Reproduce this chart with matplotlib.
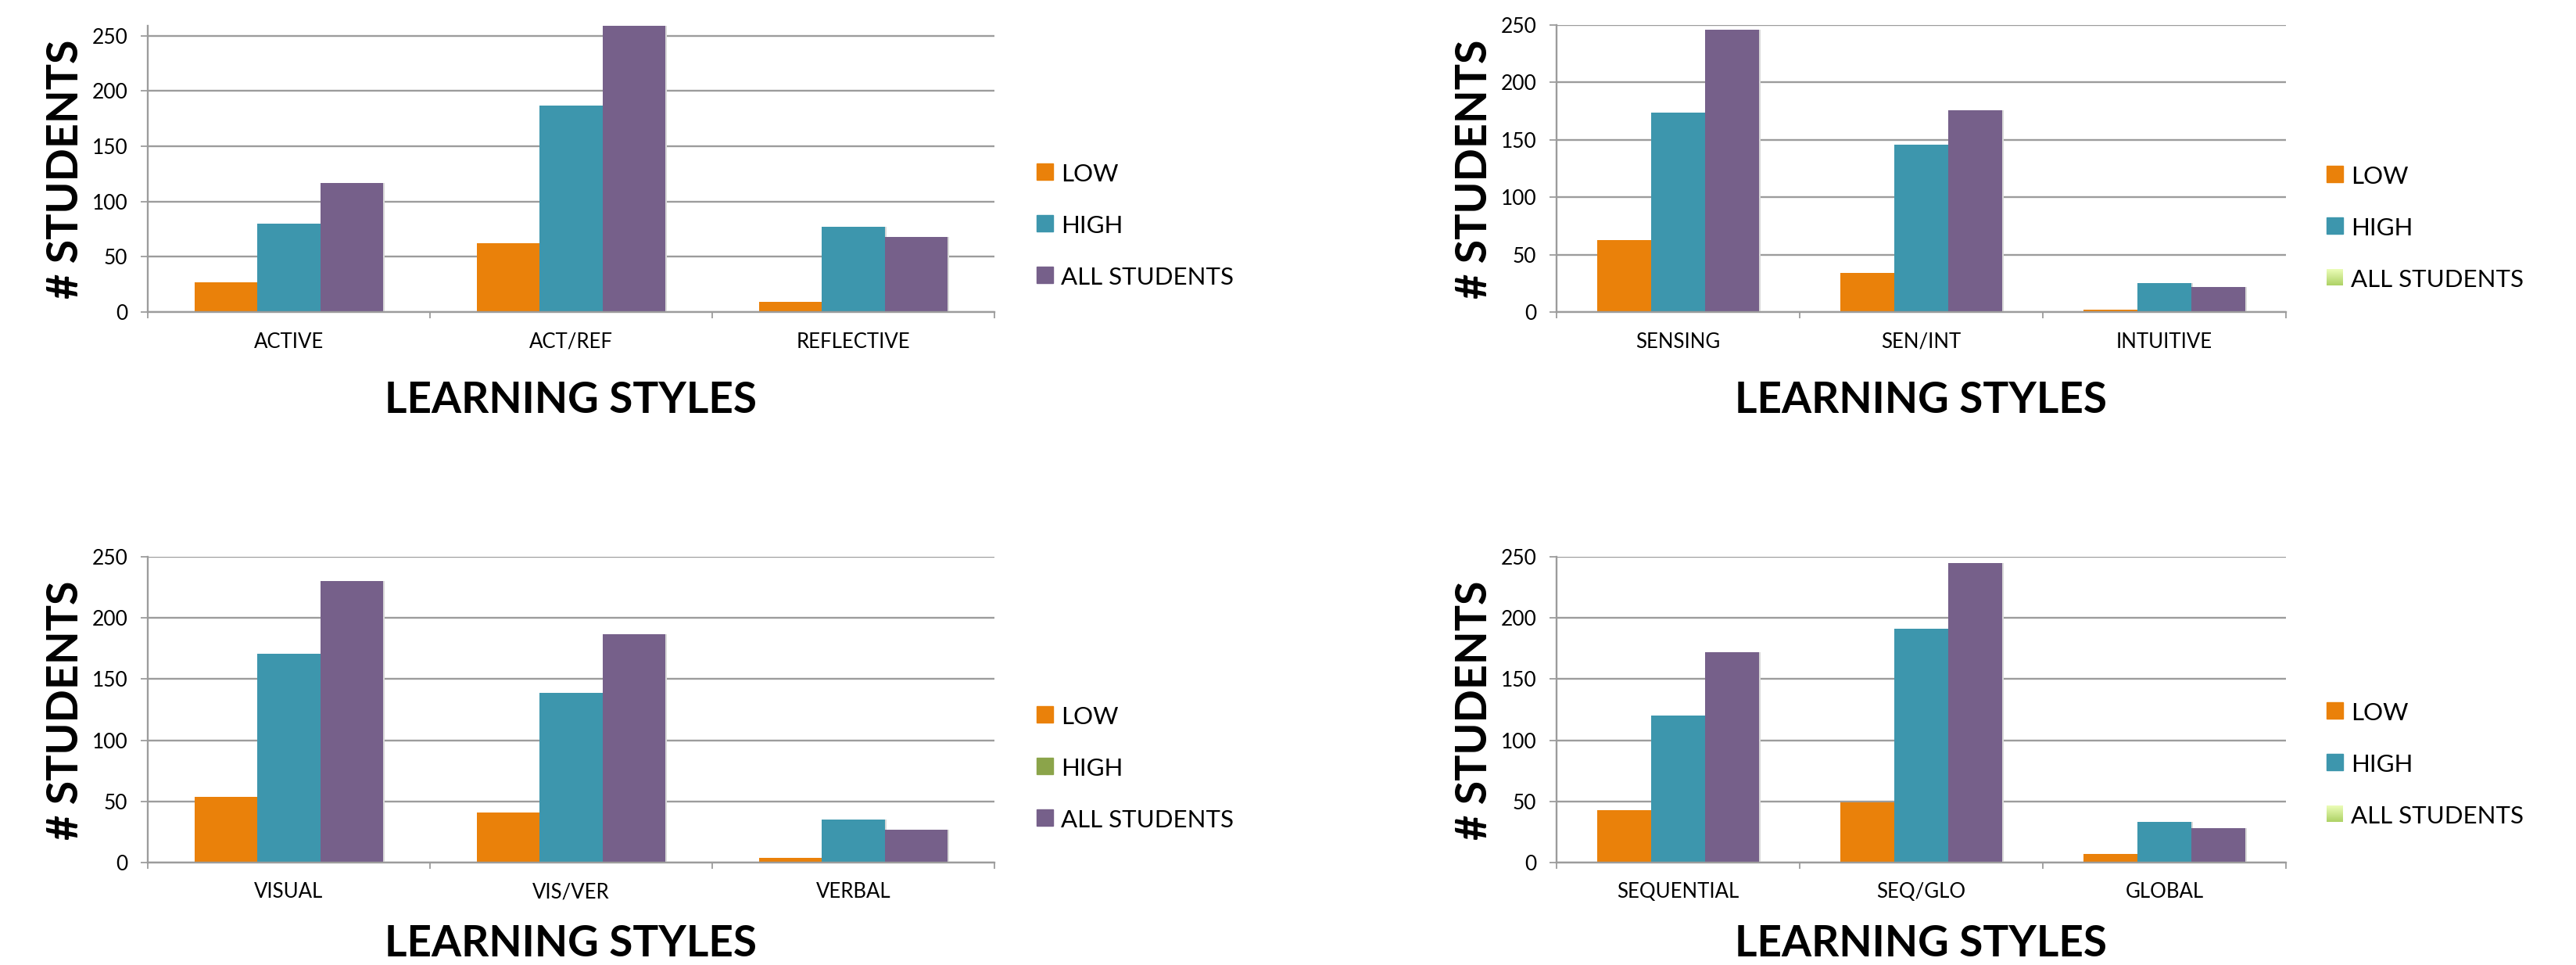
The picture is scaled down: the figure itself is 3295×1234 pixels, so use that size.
import numpy as np
import matplotlib
matplotlib.use("Agg")
import matplotlib.pyplot as plt
from matplotlib.patches import Rectangle
from matplotlib.colors import LinearSegmentedColormap

# ── Data ──────────────────────────────────────────────────────────────────────
series_names = ["LOW", "HIGH", "ALL STUDENTS"]

cats_ar = ["ACTIVE", "ACT/REF", "REFLECTIVE"]
low_ar  = [27, 62, 9]
high_ar = [80, 187, 77]
all_ar  = [117, 260, 68]

cats_si = ["SENSING", "SEN/INT", "INTUITIVE"]
low_si  = [63, 34, 2]
high_si = [174, 146, 25]
all_si  = [246, 176, 22]

cats_vv = ["VISUAL", "VIS/VER", "VERBAL"]
low_vv  = [54, 41, 4]
high_vv = [171, 139, 35]
all_vv  = [230, 187, 27]

cats_sg = ["SEQUENTIAL", "SEQ/GLO", "GLOBAL"]
low_sg  = [43, 49, 7]
high_sg = [120, 191, 33]
all_sg  = [172, 245, 28]

y_ticks = [0, 50, 100, 150, 200, 250]

# ── Style ─────────────────────────────────────────────────────────────────────
W, H, DPI = 3295, 1234, 100
ORANGE, TEAL, PURPLE = "#EA810A", "#3D96AD", "#76608A"
OLIVE = "#8BA44A"
GRID = "#9C9C9C"
FONT = ["Lato", "DejaVu Sans"]

plt.rcParams["font.family"] = FONT

fig = plt.figure(figsize=(W / DPI, H / DPI), dpi=DPI)
fig.patch.set_facecolor("white")


def fx(px):
    return px / W


def fy(py):
    return 1 - py / H


def draw_panel(left, right, top, zero, ymax, cats, low, high, allv, label_pad):
    ax = fig.add_axes([fx(left), fy(zero), fx(right - left), (zero - top) / H])
    x = np.arange(len(cats))
    bw = 0.222
    for i, (vals, col) in enumerate(zip([low, high, allv], [ORANGE, TEAL, PURPLE])):
        # faint drop shadow, then the bar itself
        ax.bar(x + (i - 1) * bw + 0.006, vals, width=bw, color="#D8D8D8", zorder=2, linewidth=0)
        ax.bar(x + (i - 1) * bw, vals, width=bw, color=col, zorder=3, linewidth=0)
    ax.set_xlim(-0.5, len(cats) - 0.5)
    ax.set_ylim(0, ymax)
    ax.set_yticks(y_ticks)
    ax.set_yticklabels([str(t) for t in y_ticks], fontsize=19)
    ax.yaxis.grid(True, color=GRID, linewidth=1.7, zorder=0)
    ax.set_axisbelow(True)
    ax.set_xticks(x)
    ax.set_xticklabels(cats, fontsize=18.5)
    ax.set_xticks(np.arange(-0.5, len(cats)), minor=True)
    ax.tick_params(axis="x", which="major", length=0, pad=label_pad)
    ax.tick_params(axis="x", which="minor", length=6, width=1.3, color=GRID, direction="out")
    ax.tick_params(axis="y", length=6.5, width=1.3, color=GRID, pad=12)
    for s in ["top", "right"]:
        ax.spines[s].set_visible(False)
    for s in ["left", "bottom"]:
        ax.spines[s].set_color(GRID)
        ax.spines[s].set_linewidth(1.7)
        ax.spines[s].set_zorder(4)
    return ax


def draw_legend(sw_x, sw_top, swatches):
    step = 66
    for i, (name, sw) in enumerate(zip(series_names, swatches)):
        t = sw_top + i * step
        if sw == "gradient":
            cax = fig.add_axes([fx(sw_x), fy(t + 21), 21 / W, 21 / H])
            cmap = LinearSegmentedColormap.from_list("g", ["#EBFDB8", "#AED265"])
            cax.imshow(np.linspace(0, 1, 50).reshape(-1, 1), aspect="auto", cmap=cmap)
            cax.axis("off")
        else:
            fig.patches.append(Rectangle((fx(sw_x), fy(t + 21)), 21 / W, 21 / H,
                                         transform=fig.transFigure, color=sw))
        fig.text(fx(sw_x + 31), fy(t + 23), name, fontsize=22.5, va="baseline", ha="left")


def draw_titles(cx_y, y_center, cx_x, base_x):
    fig.text(fx(cx_y), fy(y_center), "# STUDENTS", rotation=90, fontsize=40,
             fontweight="bold", ha="center", va="center")
    fig.text(fx(cx_x), fy(base_x), "LEARNING STYLES", fontsize=39.5,
             fontweight="bold", ha="center", va="baseline")


# ── Top-left: active / reflective ─────────────────────────────────────────────
draw_panel(189, 1272, 33, 399, 259, cats_ar, low_ar, high_ar, all_ar, 18.5)
draw_legend(1326, 209, [ORANGE, TEAL, PURPLE])
draw_titles(84, 216, 730, 528)

# ── Top-right: sensing / intuitive ────────────────────────────────────────────
draw_panel(1991, 2924, 32, 399, 250, cats_si, low_si, high_si, all_si, 18.5)
draw_legend(2976, 212, [ORANGE, TEAL, "gradient"])
draw_titles(1886, 216, 2457, 528)

# ── Bottom-left: visual / verbal ──────────────────────────────────────────────
draw_panel(189, 1272, 712, 1103, 250, cats_vv, low_vv, high_vv, all_vv, 18)
draw_legend(1326, 903, [ORANGE, OLIVE, PURPLE])
draw_titles(84, 908, 730, 1223)

# ── Bottom-right: sequential / global ─────────────────────────────────────────
draw_panel(1991, 2924, 712, 1103, 250, cats_sg, low_sg, high_sg, all_sg, 18)
draw_legend(2976, 898, [ORANGE, TEAL, "gradient"])
draw_titles(1886, 908, 2457, 1223)

fig.savefig("out.png", dpi=DPI, facecolor="white")
